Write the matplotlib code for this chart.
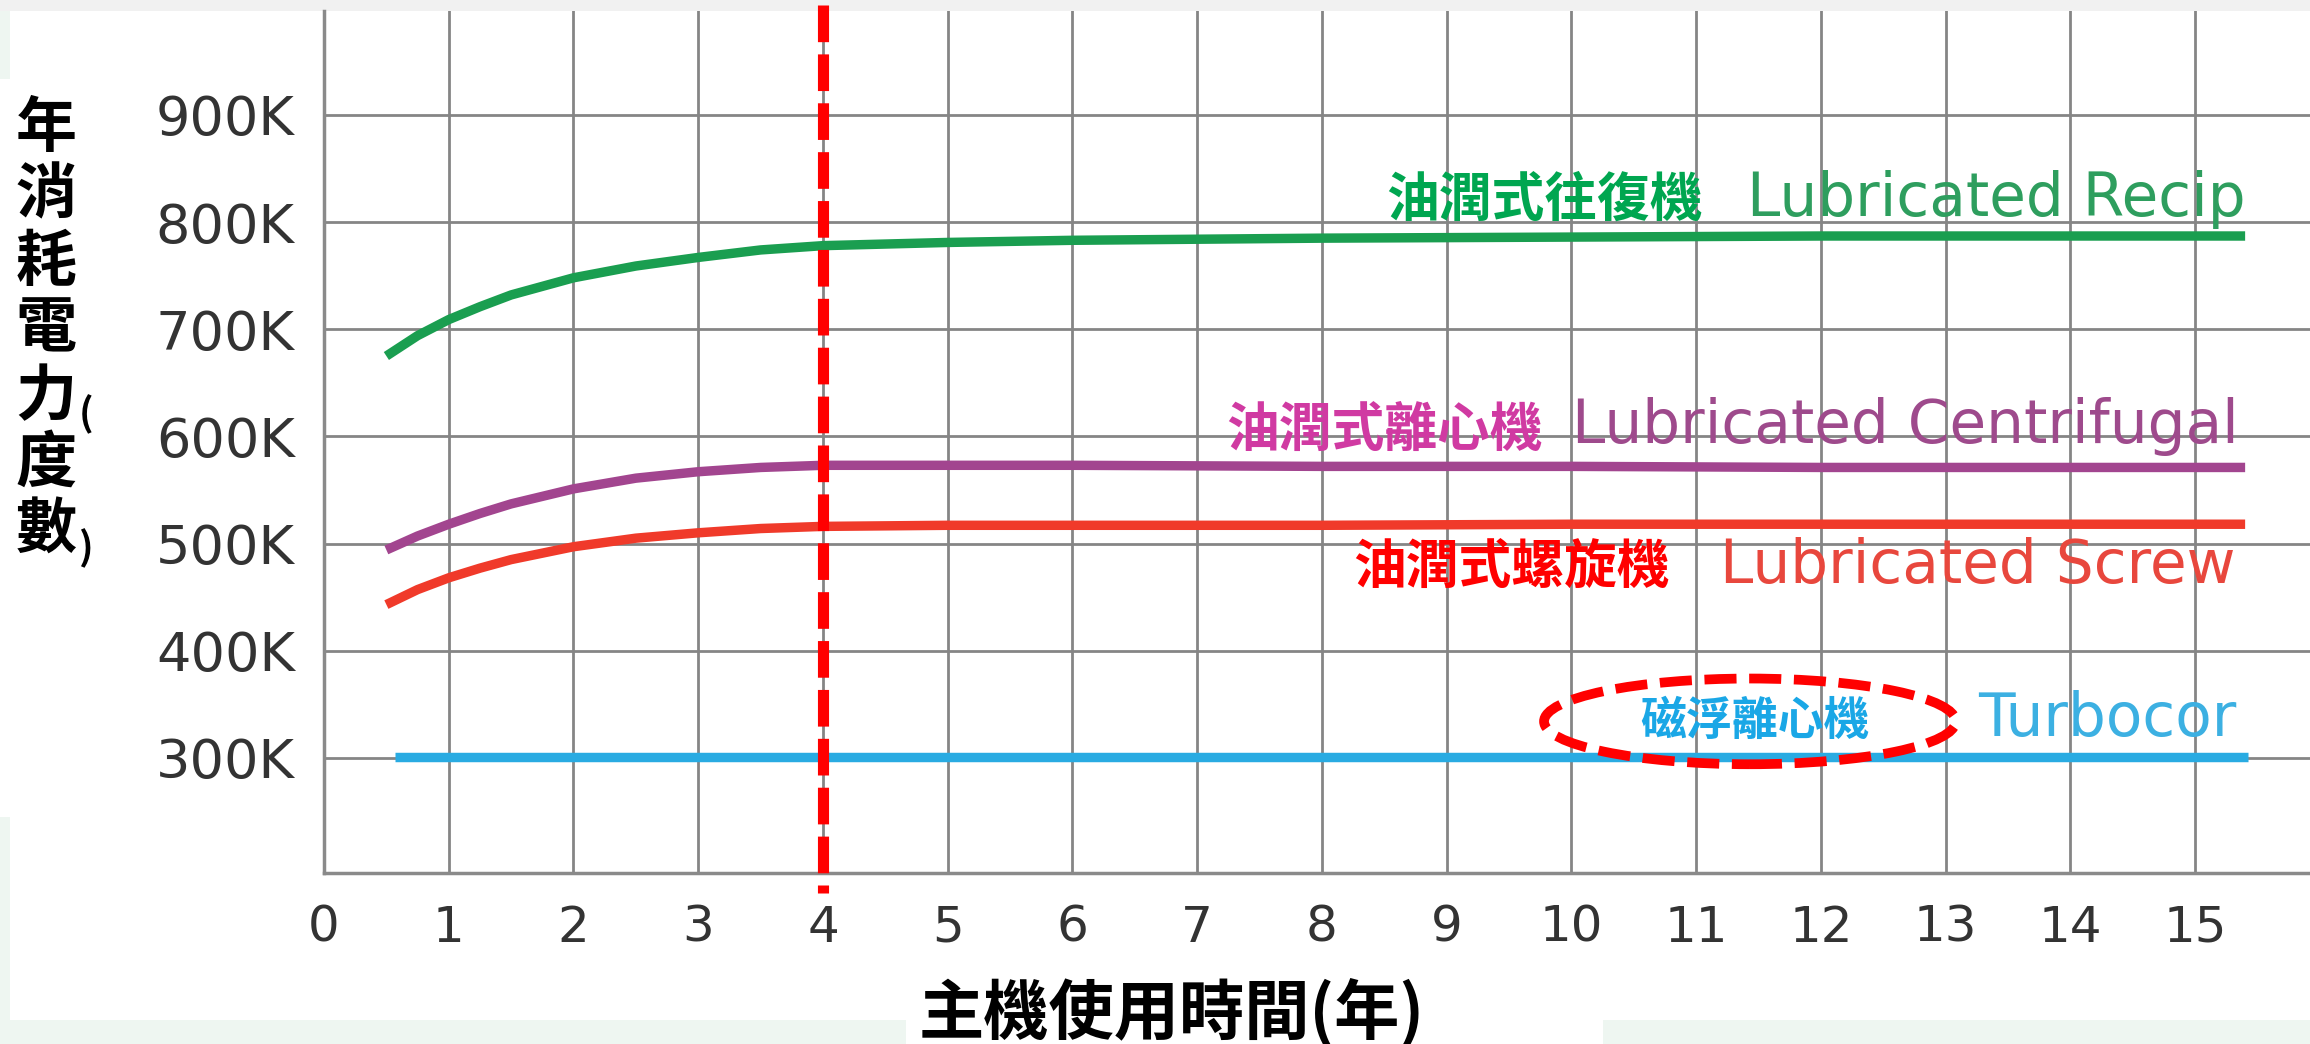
import matplotlib
matplotlib.use("Agg")
import matplotlib.pyplot as plt
from matplotlib.patches import Ellipse, Rectangle

# annual power use (K kWh) against years of chiller operation
years = [0.5, 0.75, 1, 1.25, 1.5, 2, 2.5, 3, 3.5, 4, 5, 6, 8, 10, 12, 15.4]
recip = [675, 694, 709, 721, 732, 748, 759, 767, 774, 778, 781, 783, 785, 786, 787, 787]
centrifugal = [494, 507, 518, 528, 537, 551, 561, 567, 571, 573, 573, 573, 572, 572, 571, 571]
screw = [443, 457, 468, 477, 485, 497, 505, 510, 514, 516, 517, 517, 517, 518, 518, 518]
turbocor_years = [0.57, 15.42]
turbocor = [301, 301]

x_ticks = list(range(16))
y_ticks = [300, 400, 500, 600, 700, 800, 900]
y_ticklabels = [f"{v}K" for v in y_ticks]
mark_year = 4

W, H = 2310, 1044
CJK = ["Noto Sans CJK TC", "DejaVu Sans"]
plt.rcParams["font.family"] = ["DejaVu Sans"]

fig = plt.figure(figsize=(W / 100, H / 100), dpi=100)
fig.patch.set_facecolor("white")


def fx(px):
    return px / W


def fy(py):
    return 1 - py / H


# page background bits around the chart
mint = "#eef6f1"
for x0, y0, x1, y1, c in [(0, 0, W, 11, "#f1f1f1"),
                          (0, 11, 10, 79, mint),
                          (0, 817, 10, 1020, mint),
                          (0, 1020, 906, H, mint),
                          (1603, 1020, W, H, mint)]:
    fig.add_artist(Rectangle((fx(x0), fy(y1)), fx(x1) - fx(x0), fy(y0) - fy(y1),
                             transform=fig.transFigure, fc=c, ec="none", zorder=-1))

ax = fig.add_axes([fx(324), fy(873), 1 - fx(324), fy(11) - fy(873)])
ax.set_xlim(0, 15.92)
ax.set_ylim(192.5, 997)

ax.set_xticks(x_ticks)
ax.set_xticklabels([str(v) for v in x_ticks])
ax.set_yticks(y_ticks)
ax.set_yticklabels(y_ticklabels)
ax.tick_params(axis="x", length=0, pad=22, labelsize=36, labelcolor="#333333")
ax.tick_params(axis="y", length=0, pad=21, labelsize=39, labelcolor="#333333")
ax.grid(True, color="#858585", lw=2)
ax.set_axisbelow(True)
for s in ("top", "right"):
    ax.spines[s].set_visible(False)
for s in ("left", "bottom"):
    ax.spines[s].set_color("#8a8a8a")
    ax.spines[s].set_linewidth(2.5)

lw = 6.8
ax.plot(years, recip, color="#1a9e50", lw=lw, solid_capstyle="butt", zorder=3)
ax.plot(years, centrifugal, color="#a2458f", lw=lw, solid_capstyle="butt", zorder=3)
ax.plot(years, screw, color="#f03a2a", lw=lw, solid_capstyle="butt", zorder=3)
ax.plot(turbocor_years, turbocor, color="#29abe2", lw=lw, solid_capstyle="butt", zorder=3)

# series names: Chinese + English
ax.text(9.78, 820, "油潤式往復機", color="#00a650", fontsize=38, fontweight="bold",
        family=CJK, ha="center", va="center")
ax.text(15.40, 806, "Lubricated Recip", color="#2e9e5e", fontsize=43, ha="right", va="baseline")
ax.text(8.50, 606, "油潤式離心機", color="#d03aa2", fontsize=38, fontweight="bold",
        family=CJK, ha="center", va="center")
ax.text(15.35, 594, "Lubricated Centrifugal", color="#9e4a8c", fontsize=43, ha="right", va="baseline")
ax.text(9.52, 478, "油潤式螺旋機", color="#ff0000", fontsize=38, fontweight="bold",
        family=CJK, ha="center", va="center")
ax.text(15.32, 463, "Lubricated Screw", color="#e8473d", fontsize=43, ha="right", va="baseline")
ax.text(11.47, 334, "磁浮離心機", color="#1aa7e6", fontsize=33, fontweight="bold",
        family=CJK, ha="center", va="center")
ax.text(15.33, 320, "Turbocor", color="#3cb0e2", fontsize=43, ha="right", va="baseline")

# highlight around the maglev label
ax.add_patch(Ellipse((11.43, 334), 3.30, 80, fill=False, ec="#ff0000", lw=7,
                     ls=(0, (3.3, 1.3)), zorder=6))

# payback marker
ax.axvline(mark_year, ymin=1.007, ymax=-0.023, clip_on=False, color="#ff0000", lw=8,
           ls=(0, (3.3, 1.1)), zorder=7)

# axis titles
fig.text(fx(1172), fy(1013), "主機使用時間(年)", fontsize=47, fontweight="bold",
         family=CJK, ha="center", va="center", color="black")

ylabel = "年消耗電力(度數)"
row = -1
for ch in ylabel:
    if ch in "()":
        fig.text(fx(79), fy(96 + 67 * row + 50), ch, fontsize=28, fontweight="bold",
                 family=CJK, ha="left", va="center", color="black")
        continue
    row += 1
    fig.text(fx(46), fy(96 + 33 + 67 * row), ch, fontsize=44, fontweight="bold",
             family=CJK, ha="center", va="center", color="black")

fig.savefig("out.png", dpi=100, facecolor=fig.get_facecolor())
